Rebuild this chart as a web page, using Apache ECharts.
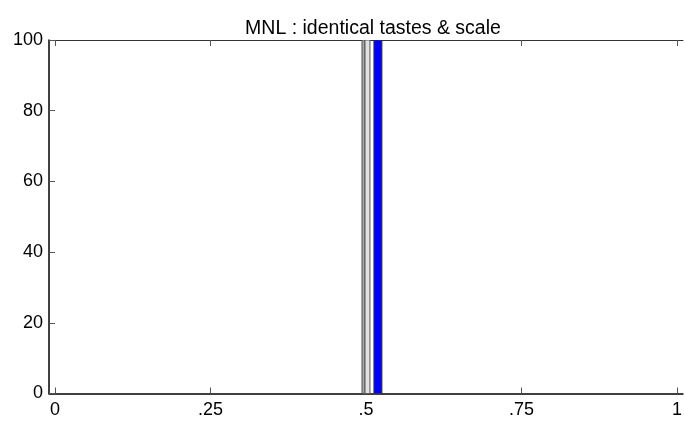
<!DOCTYPE html>
<html>
<head>
<meta charset="utf-8">
<script src="https://cdn.jsdelivr.net/npm/echarts@6/dist/echarts.min.js"></script>
<style>html,body{margin:0;padding:0;background:#fff;}#c{width:685px;height:422px;}</style>
</head>
<body>
<div id="c"></div>
<script>
// Data
const titleText = 'MNL : identical tastes & scale';
const xTicks = [0, 0.25, 0.5, 0.75, 1];
const xTickLabels = ['0', '.25', '.5', '.75', '1'];
const yTicks = [0, 20, 40, 60, 80, 100];
// bins: [start, end, height]
const darkGrayBins = [[0.4936, 0.4984, 100]];
const lightGrayBins = [[0.4984, 0.5064, 100]];
const blueBins = [[0.5128, 0.5256, 100]];

const chart = echarts.init(document.getElementById('c'), null, {renderer: 'canvas'});
const FONT = '"Liberation Sans", Arial, Helvetica, sans-serif';

function binRenderer(fill, stroke) {
  return function (params, api) {
    const p0 = api.coord([api.value(0), api.value(2)]);
    const p1 = api.coord([api.value(1), 0]);
    return {
      type: 'rect',
      shape: {x: p0[0], y: p0[1], width: p1[0] - p0[0], height: p1[1] - p0[1]},
      style: {fill: fill, stroke: stroke, lineWidth: 1}
    };
  };
}

const tickFmt = function (v) {
  const i = xTicks.findIndex(t => Math.abs(t - v) < 1e-9);
  return i >= 0 ? xTickLabels[i] : '';
};

chart.setOption({
  animation: false,
  backgroundColor: '#fff',
  title: {
    text: titleText,
    left: 368, top: 14, textAlign: 'center',
    textStyle: {fontFamily: FONT, fontSize: 19.5, fontWeight: 'normal', color: '#000'}
  },
  grid: {left: 49, top: 40, width: 638, height: 353.5, show: false},
  xAxis: [{
    type: 'value', min: -0.0096, max: 1.0096, position: 'bottom',
    axisLine: {show: true, onZero: false, lineStyle: {color: '#000', width: 1.5}},
    axisTick: {show: true, inside: true, length: 6, customValues: xTicks, lineStyle: {color: '#555'}},
    axisLabel: {show: true, customValues: xTicks, formatter: tickFmt, margin: 8,
      fontFamily: FONT, fontSize: 18, color: '#000'},
    splitLine: {show: false}
  }, {
    type: 'value', min: -0.0096, max: 1.0096, position: 'top',
    axisLine: {show: true, onZero: false, lineStyle: {color: '#333', width: 1.2}},
    axisTick: {show: true, inside: true, length: 6, customValues: xTicks, lineStyle: {color: '#555'}},
    axisLabel: {show: false},
    splitLine: {show: false}
  }],
  yAxis: {
    type: 'value', min: 0, max: 100, interval: 20,
    axisLine: {show: true, onZero: false, lineStyle: {color: '#000', width: 1.5}},
    axisTick: {show: true, inside: true, length: 6, lineStyle: {color: '#555'}},
    axisLabel: {show: true, margin: 6, fontFamily: FONT, fontSize: 18, color: '#000'},
    splitLine: {show: false}
  },
  series: [
    {type: 'custom', renderItem: binRenderer('#a8a8a8', '#555'), data: darkGrayBins, encode: {x: [0, 1], y: 2}, clip: true},
    {type: 'custom', renderItem: binRenderer('#e2e2e2', '#555'), data: lightGrayBins, encode: {x: [0, 1], y: 2}, clip: true},
    {type: 'custom', renderItem: binRenderer('#0000ff', '#333'), data: blueBins, encode: {x: [0, 1], y: 2}, clip: true}
  ]
});
</script>
</body>
</html>
